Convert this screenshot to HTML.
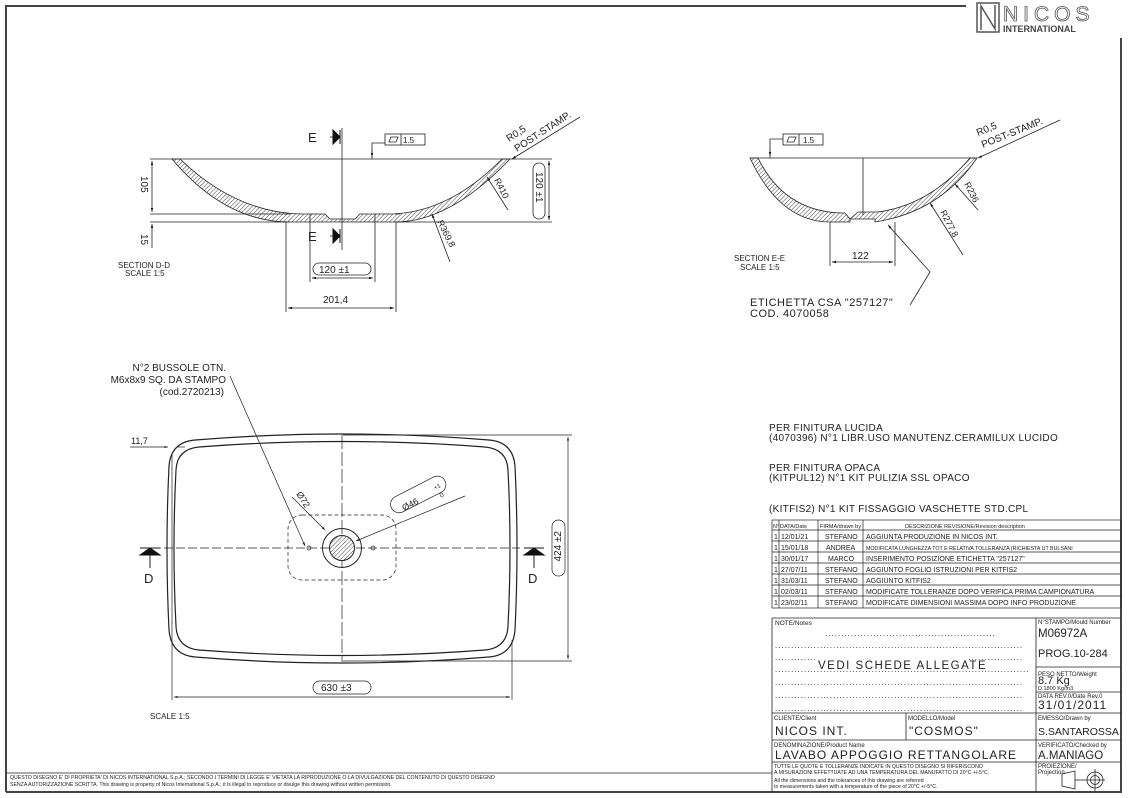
<!DOCTYPE html>
<html><head><meta charset="utf-8"><style>
html,body{margin:0;padding:0;background:#fff}
svg{display:block}
text{font-family:"Liberation Sans",sans-serif;fill:#222}
</style></head><body>
<svg width="1129" height="798" viewBox="0 0 1129 798" xmlns="http://www.w3.org/2000/svg">
<defs>
<pattern id="h" width="3" height="3" patternUnits="userSpaceOnUse" patternTransform="rotate(45)">
<rect width="3" height="3" fill="#fff"/><line x1="0" y1="0" x2="0" y2="3" stroke="#444" stroke-width="1"/></pattern>
<marker id="a" viewBox="0 0 10 10" refX="10" refY="5" markerWidth="7" markerHeight="5" orient="auto-start-reverse"><path d="M0,2 L10,5 L0,8Z" fill="#111"/></marker>
</defs>
<g fill="none" stroke="#444" stroke-width="2">
<path d="M6,792 V6 H966"/><path d="M1121,38 V792 H6"/>
</g>
<!-- logo -->
<rect x="977" y="3" width="22" height="29" fill="none" stroke="#555" stroke-width="1.5"/>
<path d="M981,30 V6 L995,29 V5" fill="none" stroke="#555" stroke-width="1.5"/>
<text x="1003" y="21" font-size="21" fill="none" stroke="#555" stroke-width="0.8" style="fill:none;letter-spacing:5px">NICOS</text>
<text x="1003" y="32" font-size="9" font-weight="bold" style="fill:#444">INTERNATIONAL</text>

<g stroke="#222" stroke-width="0.8" fill="none">
<!-- Section D-D -->
<path d="M172,159 Q225,222 290,222 L395,222 Q450,222 510,159 L502,159 Q450,212 392,214 L360,214 L355,219 L330,219 L325,214 L300,214 Q235,212 180,159Z" fill="url(#h)"/>
<line x1="150" y1="159" x2="552" y2="159"/>
<line x1="150" y1="214" x2="290" y2="214"/><line x1="395" y1="214" x2="400" y2="214"/>
<line x1="150" y1="222" x2="290" y2="222"/><line x1="395" y1="222" x2="552" y2="222"/>
<line x1="342" y1="128" x2="342" y2="250"/>
<line x1="152" y1="161" x2="152" y2="212" marker-start="url(#a)" marker-end="url(#a)"/>
<line x1="152" y1="248" x2="152" y2="224" marker-end="url(#a)"/>
<line x1="549" y1="161" x2="549" y2="220" marker-start="url(#a)" marker-end="url(#a)"/>
<rect x="533" y="163" width="12" height="56" rx="6"/>
<line x1="310" y1="214" x2="310" y2="282"/><line x1="375" y1="214" x2="375" y2="282"/>
<line x1="312" y1="278" x2="373" y2="278" marker-start="url(#a)" marker-end="url(#a)"/>
<rect x="313" y="263" width="58" height="12" rx="6"/>
<line x1="286" y1="222" x2="286" y2="312"/><line x1="396" y1="222" x2="396" y2="312"/>
<line x1="288" y1="308" x2="394" y2="308" marker-start="url(#a)" marker-end="url(#a)"/>
<line x1="330" y1="137" x2="340" y2="137"/><line x1="330" y1="236" x2="340" y2="236"/>
<path d="M372,159 V143 H385" /><line x1="372" y1="150" x2="372" y2="157" marker-end="url(#a)"/>
<rect x="385" y="134" width="40" height="11"/><line x1="401" y1="134" x2="401" y2="145"/>
<path d="M389,142 L391,137 L398,137 L396,142Z"/>
<line x1="580" y1="117" x2="512" y2="159" marker-end="url(#a)"/>
<line x1="508" y1="210" x2="487" y2="177" marker-end="url(#a)"/>
<line x1="450" y1="262" x2="432" y2="214" marker-end="url(#a)"/>
</g>
<path d="M333,130 L340,137 L333,144Z M340,130 V144" fill="#111" stroke="#111"/>
<path d="M333,229 L340,236 L333,243Z M340,229 V243" fill="#111" stroke="#111"/>
<text x="308" y="142" font-size="13">E</text><text x="308" y="241" font-size="13">E</text>
<text x="403" y="143" font-size="8">1.5</text>
<text x="319" y="273" font-size="10">120 ±1</text>
<text x="323" y="303" font-size="10">201,4</text>
<text font-size="10" transform="translate(141,176) rotate(90)">105</text>
<text font-size="10" transform="translate(141,234) rotate(90)">15</text>
<text font-size="10" transform="translate(536,172) rotate(90)">120 ±1</text>
<text font-size="9" transform="translate(494,180) rotate(63)">R410</text>
<text font-size="9" transform="translate(437,222) rotate(63)">R369,8</text>
<text font-size="10" transform="translate(509,142) rotate(-33)">R0,5</text>
<text font-size="10" transform="translate(517,152) rotate(-33)">POST-STAMP.</text>
<text x="118" y="268" font-size="8">SECTION D-D</text><text x="125" y="276" font-size="8">SCALE 1:5</text>

<!-- Section E-E -->
<g stroke="#222" stroke-width="0.8" fill="none">
<path d="M750,158 Q780,222 830,222 L850,222 L850,219 L875,219 L875,222 Q940,212 977,158 L970,158 Q930,205 878,212 L858,212 L850,219 L845,213 Q785,213 758,158Z" fill="url(#h)"/>
<line x1="750" y1="158" x2="977" y2="158"/>
<line x1="863" y1="158" x2="863" y2="215"/>
<line x1="830" y1="222" x2="830" y2="266"/><line x1="895" y1="222" x2="895" y2="266"/>
<line x1="832" y1="262" x2="893" y2="262" marker-start="url(#a)" marker-end="url(#a)"/>
<path d="M770,158 V139 H783"/><line x1="770" y1="148" x2="770" y2="156" marker-end="url(#a)"/>
<rect x="783" y="134" width="40" height="11"/><line x1="799" y1="134" x2="799" y2="145"/>
<path d="M787,142 L789,137 L796,137 L794,142Z"/>
<line x1="1060" y1="120" x2="978" y2="158" marker-end="url(#a)"/>
<line x1="978" y1="210" x2="955" y2="184" marker-end="url(#a)"/>
<line x1="963" y1="255" x2="930" y2="203" marker-end="url(#a)"/>
<path d="M910,305 L930,272 L888,225" marker-end="url(#a)"/>
</g>
<text x="803" y="143" font-size="8">1.5</text>
<text x="852" y="259" font-size="10">122</text>
<text font-size="9" transform="translate(964,184) rotate(63)">R236</text>
<text font-size="9" transform="translate(940,212) rotate(63)">R277,8</text>
<text font-size="10" transform="translate(978,136) rotate(-22)">R0,5</text>
<text font-size="10" transform="translate(983,148) rotate(-22)">POST-STAMP.</text>
<text x="734" y="261" font-size="8">SECTION E-E</text><text x="740" y="270" font-size="8">SCALE 1:5</text>
<text x="750" y="306" font-size="11" style="letter-spacing:0.5px">ETICHETTA CSA "257127"</text>
<text x="750" y="317" font-size="11" style="letter-spacing:0.5px">COD. 4070058</text>

<!-- Plan view -->
<g stroke="#222" fill="none">
<path stroke-width="1.2" d="M195,440 Q342,428 489,440 Q513,442 515,466 Q519,548 515,630 Q513,655 489,657 Q342,669 195,657 Q171,655 169,630 Q165,548 169,466 Q171,442 195,440Z"/>
<path stroke-width="1.2" d="M199,447 Q342,436 485,447 Q507,449 508,470 Q512,548 508,626 Q507,648 485,650 Q342,661 199,650 Q177,648 176,626 Q172,548 176,470 Q177,449 199,447Z"/>
<g stroke-width="0.7">
<line x1="140" y1="548" x2="520" y2="548" stroke-dasharray="9,3"/>
<line x1="342" y1="435" x2="342" y2="662" stroke-dasharray="14,3"/>
<rect x="288" y="515" width="108" height="65" rx="14" stroke-dasharray="4,2.5"/>
<line x1="343" y1="435" x2="572" y2="435"/><line x1="343" y1="661" x2="572" y2="661"/>
<line x1="568" y1="437" x2="568" y2="659" marker-start="url(#a)" marker-end="url(#a)"/>
<rect x="552" y="520" width="13" height="56" rx="6.5"/>
<line x1="172" y1="455" x2="172" y2="700"/><line x1="512" y1="640" x2="512" y2="700"/>
<line x1="174" y1="697" x2="510" y2="697" marker-start="url(#a)" marker-end="url(#a)"/>
<rect x="313" y="681" width="58" height="13" rx="6.5"/>
<line x1="130" y1="447" x2="168" y2="447" marker-end="url(#a)"/><line x1="185" y1="447" x2="178" y2="447"/>
<line x1="230" y1="376" x2="305" y2="546" marker-end="url(#a)"/>
<line x1="292" y1="497" x2="325" y2="530" marker-end="url(#a)"/>
<line x1="465" y1="496" x2="356" y2="541" marker-end="url(#a)"/>
<rect x="388" y="486" width="60" height="17" rx="8.5" transform="rotate(-27 418 494)"/>
<circle cx="309" cy="548" r="2"/><circle cx="373" cy="548" r="2"/>
</g>
<circle cx="342" cy="548" r="19.5" stroke-width="1"/>
<circle cx="342" cy="548" r="12.5" stroke-width="1" fill="url(#h)"/>
</g>
<path d="M140,555 L150,548 L160,555Z M140,548 H160" fill="#111" stroke="#111"/><line x1="150" y1="555" x2="150" y2="568" stroke="#222"/>
<path d="M524,555 L534,548 L544,555Z M524,548 H544" fill="#111" stroke="#111"/><line x1="534" y1="555" x2="534" y2="568" stroke="#222"/>
<text x="144" y="583" font-size="13">D</text><text x="528" y="583" font-size="13">D</text>
<text x="131" y="444" font-size="9">11,7</text>
<text font-size="10" transform="translate(561,531) rotate(-90)" text-anchor="end">424 ±2</text>
<text x="321" y="691" font-size="10">630 ±3</text>
<text font-size="9" transform="translate(296,494) rotate(57)">Ø72</text>
<text font-size="9" transform="translate(404,511) rotate(-27)">Ø46</text>
<text font-size="6" transform="translate(435,490) rotate(-27)">+1</text>
<text font-size="7" transform="translate(441,498) rotate(-27)">0</text>
<text x="150" y="719" font-size="8">SCALE 1:5</text>
<g font-size="10" text-anchor="end"><text x="226" y="371">N°2 BUSSOLE OTN.</text><text x="226" y="383">M6x8x9 SQ. DA STAMPO</text><text x="224" y="395">(cod.2720213)</text></g>

<!-- notes -->
<g font-size="10" style="letter-spacing:0.3px">
<text x="769" y="431">PER FINITURA LUCIDA</text>
<text x="769" y="441">(4070396) N°1 LIBR.USO MANUTENZ.CERAMILUX LUCIDO</text>
<text x="769" y="471">PER FINITURA OPACA</text>
<text x="769" y="481">(KITPUL12) N°1 KIT PULIZIA SSL OPACO</text>
<text x="769" y="512">(KITFIS2) N°1 KIT FISSAGGIO VASCHETTE STD.CPL</text>
</g>

<!-- revision table -->
<g stroke="#222" stroke-width="0.7" fill="none">
<rect x="772" y="520" width="349" height="88"/>
<line x1="779" y1="520" x2="779" y2="608"/><line x1="818" y1="520" x2="818" y2="608"/><line x1="863" y1="520" x2="863" y2="608"/>
<line x1="772" y1="530" x2="1121" y2="530"/><line x1="772" y1="541" x2="1121" y2="541"/><line x1="772" y1="552" x2="1121" y2="552"/><line x1="772" y1="563" x2="1121" y2="563"/><line x1="772" y1="574" x2="1121" y2="574"/><line x1="772" y1="585" x2="1121" y2="585"/><line x1="772" y1="596" x2="1121" y2="596"/>
</g>
<g font-size="5.5"><text x="773" y="528">N°</text><text x="780" y="528">DATA/Date</text><text x="820" y="528">FIRMA/drawn by</text><text x="905" y="528">DESCRIZIONE REVISIONE/Revision description</text></g>
<g font-size="7">
<text x="774" y="539">1</text><text x="781" y="539">12/01/21</text><text x="825" y="539">STEFANO</text><text x="866" y="539">AGGIUNTA PRODUZIONE IN NICOS INT.</text>
<text x="774" y="550">1</text><text x="781" y="550">15/01/18</text><text x="826" y="550">ANDREA</text><text x="866" y="550" font-size="5.3">MODIFICATA LUNGHEZZA TOT E RELATIVA TOLLERANZA (RICHIESTA UT BULSANI</text>
<text x="774" y="561">1</text><text x="781" y="561">30/01/17</text><text x="828" y="561">MARCO</text><text x="866" y="561">INSERIMENTO POSIZIONE ETICHETTA "257127"</text>
<text x="774" y="572">1</text><text x="781" y="572">27/07/11</text><text x="825" y="572">STEFANO</text><text x="866" y="572">AGGIUNTO FOGLIO ISTRUZIONI PER KITFIS2</text>
<text x="774" y="583">1</text><text x="781" y="583">31/03/11</text><text x="825" y="583">STEFANO</text><text x="866" y="583">AGGIUNTO KITFIS2</text>
<text x="774" y="594">1</text><text x="781" y="594">02/03/11</text><text x="825" y="594">STEFANO</text><text x="866" y="594">MODIFICATE TOLLERANZE DOPO VERIFICA PRIMA CAMPIONATURA</text>
<text x="774" y="605">1</text><text x="781" y="605">23/02/11</text><text x="825" y="605">STEFANO</text><text x="866" y="605">MODIFICATE DIMENSIONI MASSIMA DOPO INFO PRODUZIONE</text>
</g>

<!-- title block -->
<g stroke="#222" stroke-width="0.8" fill="none">
<line x1="772" y1="618" x2="1121" y2="618"/>
<line x1="772" y1="618" x2="772" y2="792"/>
<line x1="1036" y1="618" x2="1036" y2="792"/>
<line x1="1036" y1="667" x2="1121" y2="667"/><line x1="1036" y1="692" x2="1121" y2="692"/>
<line x1="772" y1="713" x2="1121" y2="713"/><line x1="772" y1="740" x2="1121" y2="740"/><line x1="772" y1="762" x2="1121" y2="762"/>
<line x1="906" y1="713" x2="906" y2="740"/>
<line x1="6" y1="773" x2="772" y2="773"/>
<path d="M1075,771 L1062,774 L1062,786 L1075,789Z"/><line x1="1075" y1="780" x2="1085" y2="780"/>
<circle cx="1095" cy="780" r="8"/><circle cx="1095" cy="780" r="4.5"/><line x1="1085" y1="780" x2="1105" y2="780"/><line x1="1095" y1="769" x2="1095" y2="791"/>
</g>
<g font-size="6.5"><text x="775" y="625">NOTE/Notes</text></g>
<g font-size="8" style="letter-spacing:1px" fill="#333">
<text x="825" y="636">.....................................................</text>
<text x="775" y="648">.............................................................................</text>
<text x="775" y="660">.............................................................................</text>
<text x="775" y="672">...............................................................................</text>
<text x="775" y="685">.............................................................................</text>
<text x="775" y="698">.............................................................................</text>
<text x="775" y="711">.............................................................................</text>
</g>
<rect x="816" y="658" width="152" height="13" fill="#fff"/>
<text x="818" y="669" font-size="11.5" style="letter-spacing:1.5px">VEDI SCHEDE ALLEGATE</text>
<g font-size="6"><text x="1038" y="624">N°STAMPO/Mould Number</text><text x="1038" y="676">PESO NETTO/Weight</text><text x="1038" y="698">DATA REV.0/Date Rev.0</text>
<text x="774" y="720">CLIENTE/Client</text><text x="908" y="720">MODELLO/Model</text><text x="1038" y="720">EMESSO/Drawn by</text>
<text x="774" y="747">DENOMINAZIONE/Product Name</text><text x="1038" y="747">VERIFICATO/Checked by</text>
<text x="1038" y="768">PROIEZIONE/</text><text x="1038" y="774">Projection</text>
<text x="1038" y="690" font-size="5.5">D.1800 Kg/m3</text></g>
<g font-size="5.2"><text x="774" y="768">TUTTE LE QUOTE E TOLLERANZE INDICATE IN QUESTO DISEGNO SI RIFERISCONO</text><text x="774" y="774">A MISURAZIONI EFFETTUATE AD UNA TEMPERATURA DEL MANUFATTO DI 20°C +/-5°C.</text>
<text x="774" y="782">All the dimensions and the tolerances of this drawing are referred</text><text x="774" y="788">to measurements taken with a temperature of the piece of 20°C +/-5°C.</text>
<text x="10" y="779">QUESTO DISEGNO E' DI PROPRIETA' DI NICOS INTERNATIONAL S.p.A.; SECONDO I TERMINI DI LEGGE E' VIETATA LA RIPRODUZIONE O LA DIVULGAZIONE DEL CONTENUTO DI QUESTO DISEGNO</text>
<text x="10" y="786">SENZA AUTORIZZAZIONE SCRITTA. This drawing is property of Nicos International S.p.A.; it is illegal to reproduce or divulge this drawing without written permission.</text></g>
<text x="1038" y="637" font-size="11.5">M06972A</text>
<text x="1038" y="657" font-size="11">PROG.10-284</text>
<text x="1038" y="684" font-size="11">8.7 Kg</text>
<text x="1038" y="709" font-size="12" style="letter-spacing:1px">31/01/2011</text>
<text x="775" y="735" font-size="12" style="letter-spacing:1px">NICOS INT.</text>
<text x="909" y="735" font-size="12" style="letter-spacing:1px">"COSMOS"</text>
<text x="1038" y="735" font-size="10.5">S.SANTAROSSA</text>
<text x="775" y="759" font-size="12" style="letter-spacing:1px">LAVABO APPOGGIO RETTANGOLARE</text>
<text x="1038" y="759" font-size="11.5">A.MANIAGO</text>
</svg>
</body></html>
